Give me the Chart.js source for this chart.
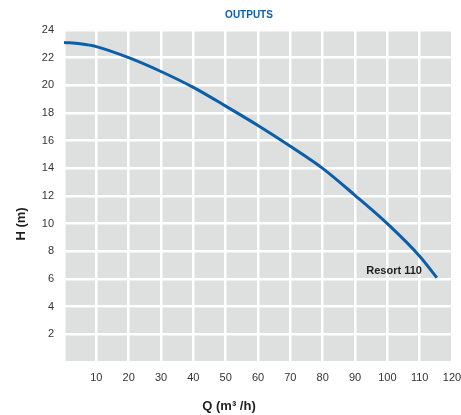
<!DOCTYPE html>
<html>
<head>
<meta charset="utf-8">
<script src="https://cdn.jsdelivr.net/npm/chart.js@4"></script>
<style>
  html,body{margin:0;padding:0;background:#fff;}
  #wrap{width:461px;height:415px;}
</style>
</head>
<body>
<div id="wrap"><canvas id="c" width="461" height="415"></canvas></div>
<script>
'use strict';
Chart.defaults.font.family = "'Liberation Sans', Arial, sans-serif";
Chart.defaults.animation = false;

// ── DATA ────────────────────────────────────────────────────────────────────
const flowQ  = [0, 5, 10, 20, 30, 40, 50, 60, 70, 80, 90, 100, 110, 115.3];
const headH  = [23.1, 23.0, 22.8, 22.0, 21.0, 19.85, 18.5, 17.1, 15.6, 14.0, 12.05, 10.0, 7.65, 6.1];
const xTicks = [10, 20, 30, 40, 50, 60, 70, 80, 90, 100, 110, 120];
const yTicks = [2, 4, 6, 8, 10, 12, 14, 16, 18, 20, 22, 24];
const seriesName = 'Resort 110';
const chartTitle = 'OUTPUTS';
const xTitle = 'Q (m³ /h)';
const yTitle = 'H (m)';

const C = { blue:'#0b5fa8', grid:'#ffffff', bg:'#dedfdf', tick:'#333333', text:'#1e1e1e' };

// plot background + free-placed texts
const decor = {
  id:'decor',
  beforeDraw(chart){
    const {ctx, chartArea:a} = chart;
    ctx.save();
    ctx.fillStyle = C.bg;
    ctx.fillRect(a.left, a.top, a.right-a.left, a.bottom-a.top);
    ctx.restore();
  },
  afterDraw(chart){
    const {ctx, scales:{x,y}} = chart;
    ctx.save();
    // title
    ctx.fillStyle = C.blue;
    ctx.font = "bold 10px 'Liberation Sans', Arial, sans-serif";
    ctx.textAlign = 'center'; ctx.textBaseline = 'middle';
    ctx.fillText(chartTitle, 249, 15);
    // series label
    ctx.fillStyle = C.text;
    ctx.font = "bold 11px 'Liberation Sans', Arial, sans-serif";
    ctx.textAlign = 'right';
    ctx.fillText(seriesName, x.getPixelForValue(110.7), y.getPixelForValue(6.6));
    // x title
    ctx.font = "bold 13px 'Liberation Sans', Arial, sans-serif";
    ctx.textAlign = 'center';
    ctx.fillText(xTitle, 229, 406);
    // y title
    ctx.translate(21, 224);
    ctx.rotate(-Math.PI/2);
    ctx.fillText(yTitle, 0, 0);
    ctx.restore();
  }
};

new Chart(document.getElementById('c'), {
  type:'line',
  data:{
    datasets:[{
      label:seriesName,
      data:flowQ.map((q,i)=>({x:q, y:headH[i]})),
      borderColor:C.blue, borderWidth:3, pointRadius:0,
      cubicInterpolationMode:'monotone', fill:false
    }]
  },
  options:{
    responsive:false,
    layout:{padding:{top:30, right:9, left:0, bottom:0}},
    plugins:{legend:{display:false}, tooltip:{enabled:false}, title:{display:false}},
    scales:{
      x:{
        type:'linear', min:0, max:120,
        afterFit:s=>{s.height = 53; s.paddingLeft = 0; s.paddingRight = 0;},
        afterBuildTicks:s=>{s.ticks = [0, ...xTicks].map(v=>({value:v}));},
        ticks:{color:C.tick, font:{size:11}, padding:9, maxRotation:0, autoSkip:false,
          callback:v=>v===0?'':String(v)},
        grid:{color:C.grid, lineWidth:2.5, drawTicks:false},
        border:{display:false}
      },
      y:{
        type:'linear', min:0, max:24,
        afterFit:s=>{s.width = 64; s.paddingTop = 0; s.paddingBottom = 0;},
        afterBuildTicks:s=>{s.ticks = [0, ...yTicks].map(v=>({value:v}));},
        ticks:{color:C.tick, font:{size:11}, padding:10, autoSkip:false,
          callback:v=>v===0?'':String(v)},
        grid:{color:C.grid, lineWidth:2.5, drawTicks:false},
        border:{display:false}
      }
    }
  },
  plugins:[decor]
});
</script>
</body>
</html>
